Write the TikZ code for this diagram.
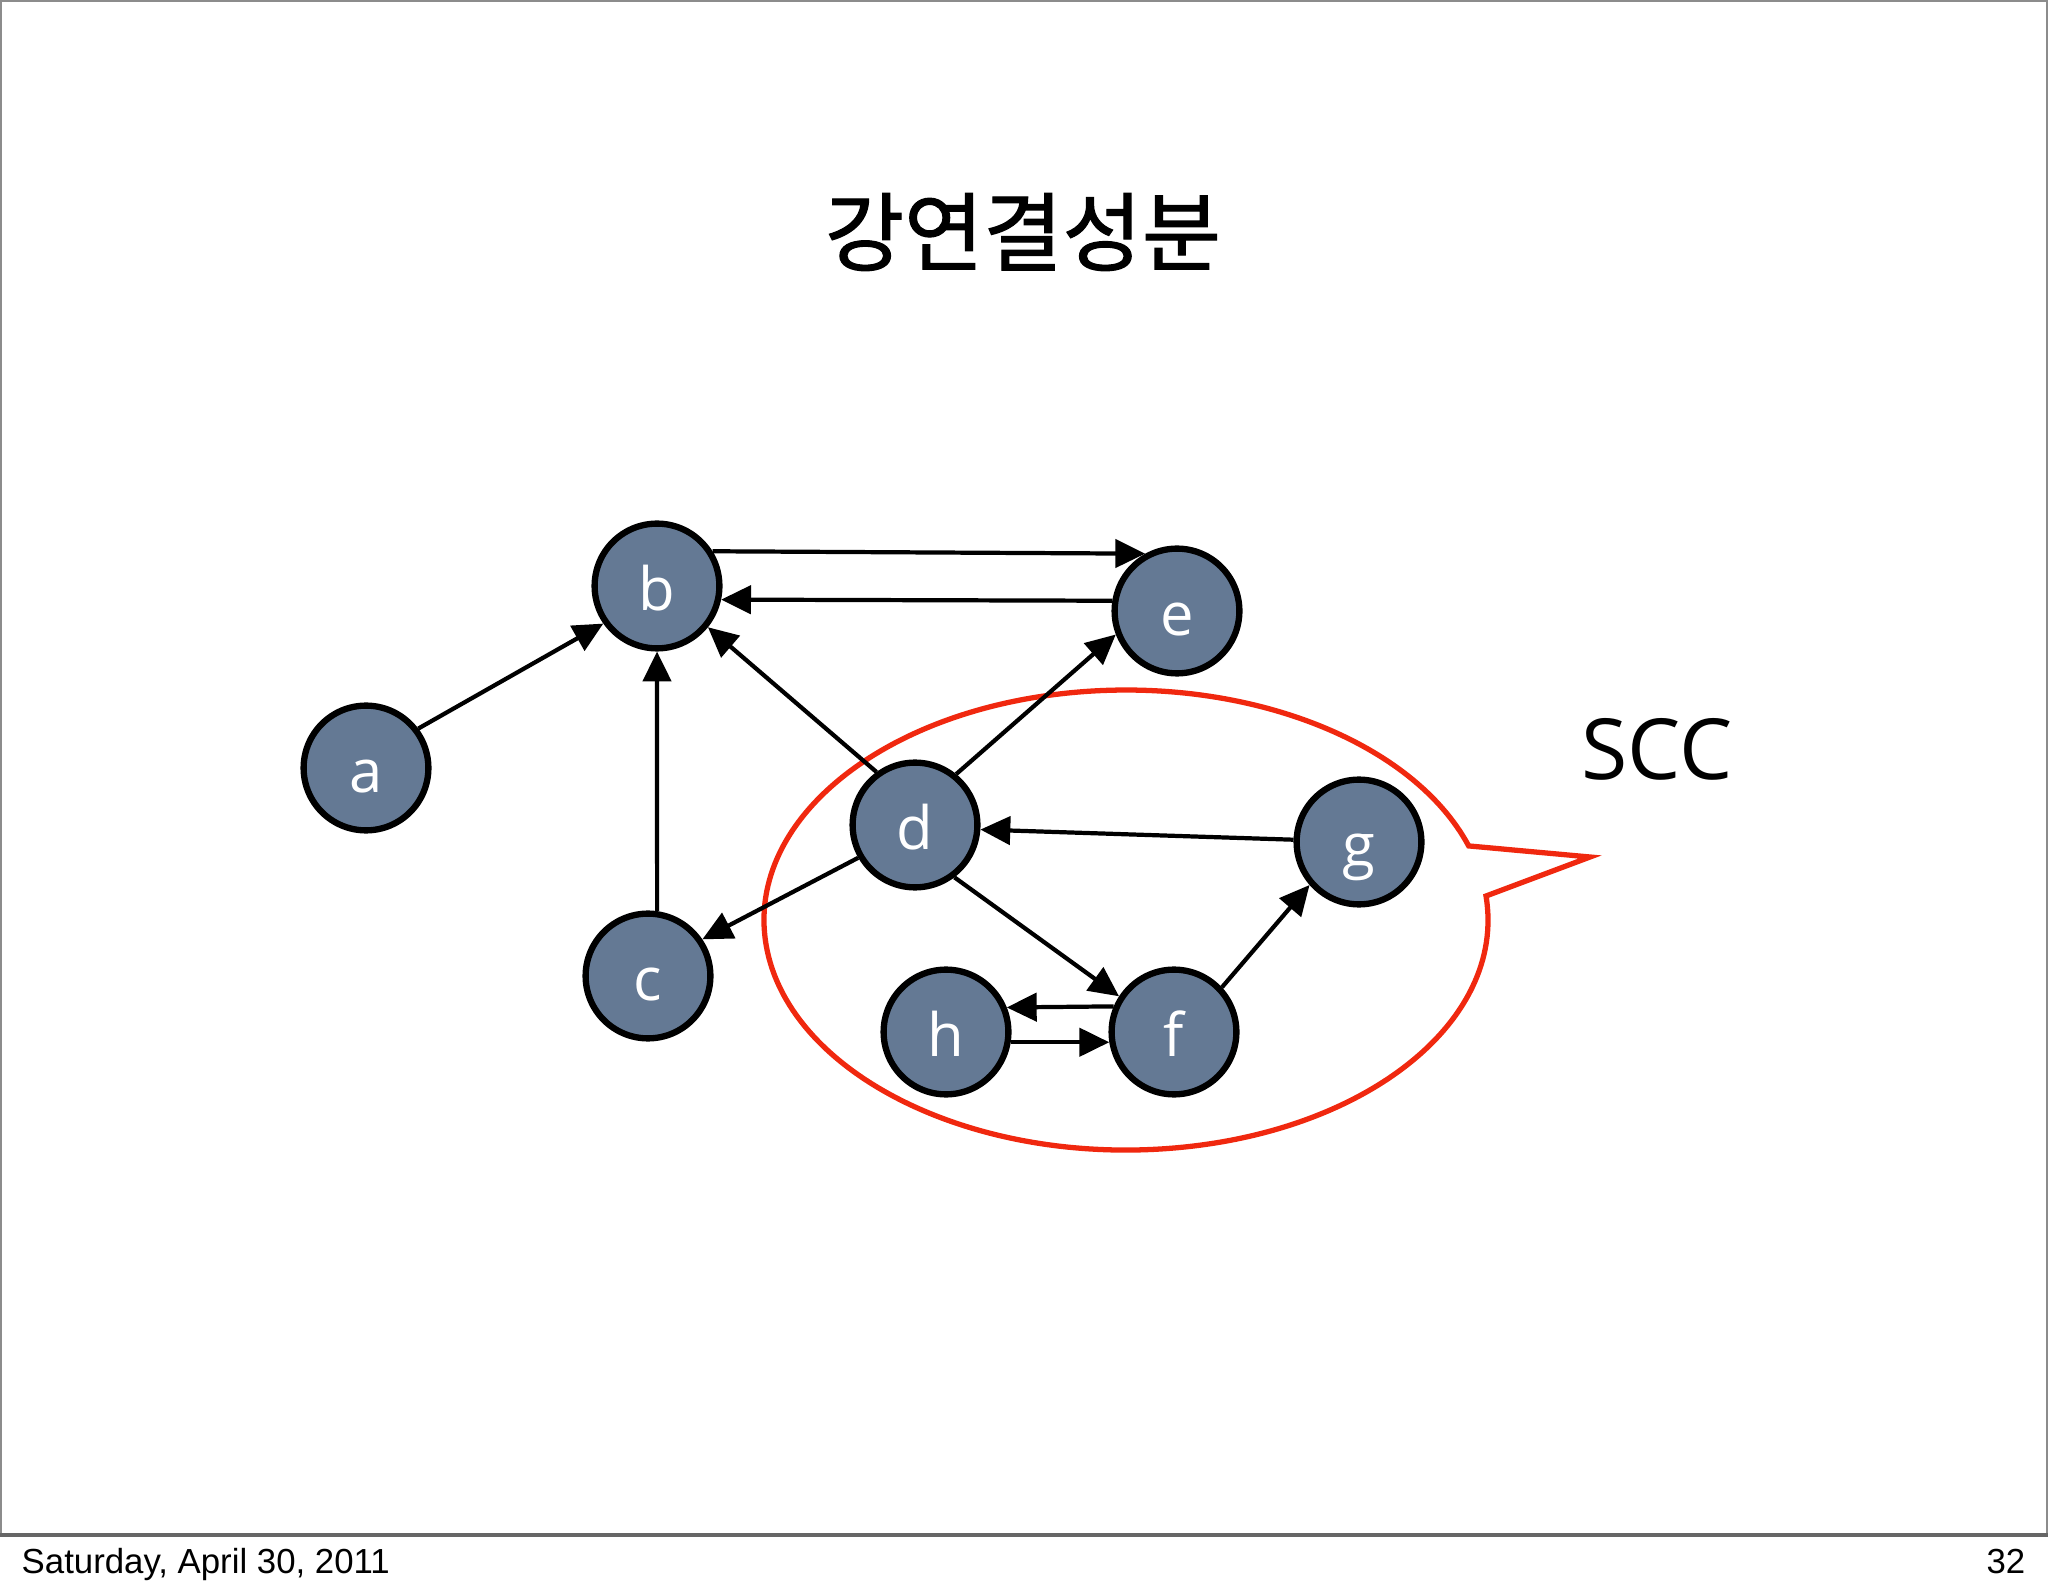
\documentclass[tikz,border=0pt]{standalone}
\usepackage{fontspec}
\setmainfont{Open Sans}
\newfontfamily\kofont{Noto Sans CJK KR}[FakeBold=1.3]
\newfontfamily\footfont{Liberation Sans}
\usetikzlibrary{arrows.meta}
\definecolor{nodefill}{RGB}{100,121,148}
\definecolor{sccred}{RGB}{240,40,15}
\begin{document}
\begin{tikzpicture}[x=0.1mm,y=-0.1mm,
  vtx/.style={circle,draw=black,line width=1.8pt,fill=nodefill,minimum size=35.5pt,
    inner sep=0pt,text=white,font=\fontsize{17}{17}\selectfont,text height=14pt,text depth=0pt},
  arr/.style={line width=1.2pt,-{Triangle[length=8.5pt,width=8pt]}},
  foot/.style={inner sep=0pt,font=\footfont\fontsize{9.9}{10}\selectfont},
  frame/.style={draw=black!45,line width=0.6pt}]
\useasboundingbox (0,0) rectangle (2048,1593);
\fill[white] (0,0) rectangle (2048,1593);
\draw[frame] (1,1) rectangle (2047,1535);
\draw[draw=black!60,line width=1pt] (0,1535) -- (2048,1535);

\node (title) at (1023,232) {\kofont\fontsize{24.5}{25}\selectfont 강연결성분};

% SCC callout
\draw[sccred,line width=1.5pt,line join=miter] (1486,896)
  arc[start angle=6,end angle=-341.2,x radius=36.2mm,y radius=23mm] -- (1590,857) -- cycle;
\node (scc) at (1657,749) {\fontsize{24}{24}\selectfont SCC};

% vertices
\node[vtx] (a) at (366,768) {a};
\node[vtx] (b) at (657,586) {b};
\node[vtx] (c) at (648,976) {c};
\node[vtx] (d) at (915,825) {d};
\node[vtx] (e) at (1177,611) {e};
\node[vtx] (f) at (1174,1032) {f};
\node[vtx] (g) at (1359,842) {g};
\node[vtx] (h) at (946,1032) {h};

% edges
\draw[arr] (a.37) -- (b.215);
\draw[arr] (c.82) -- (b.south);
\draw[arr] (d.126) -- (b.-39);
\draw[arr] (b.32) -- (e.119);
\draw[arr] (e.171) -- (b.-12);
\draw[arr] (d.51) -- (e.201);
\draw[arr] (d.210) -- (c.34);
\draw[arr] (g.178) -- (d.-4);
\draw[arr] (d.-53) -- (f.147);
\draw[arr] (f.43) -- (g.221);
\draw[arr] (f.157.6) -- (h.22.4);
\draw[arr] (h.-9) -- (f.189);

% footer
\node[anchor=base west,foot] (date) at (21,1573) {Saturday, April 30, 2011};
\node[anchor=base east,foot] (page) at (2026,1573) {32};
\end{tikzpicture}
\end{document}
